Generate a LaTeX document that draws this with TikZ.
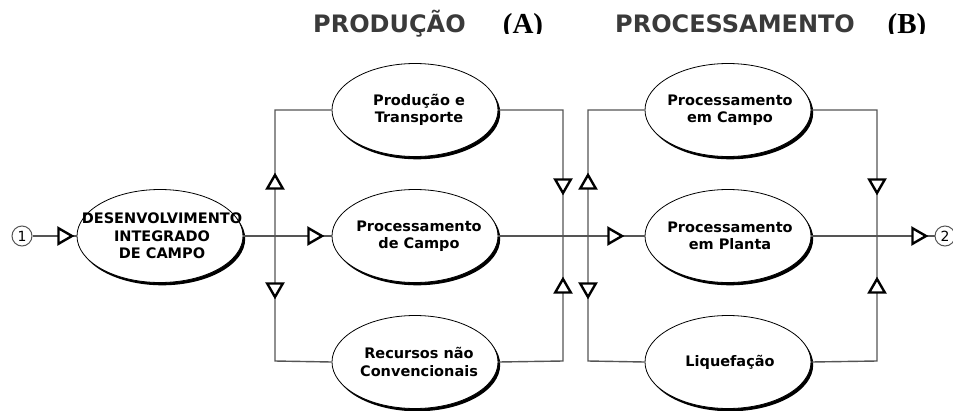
\documentclass[tikz,border=0pt]{standalone}
\usepackage{fontspec}
\setmainfont{DejaVu Sans}
\newfontfamily\headserif{Liberation Serif}
\usetikzlibrary{shapes.geometric,shadows}
\definecolor{headgrey}{HTML}{3A3A3A}
\definecolor{linegrey}{HTML}{555555}
\begin{document}
\begin{tikzpicture}[x=1pt,y=-1pt,
  conn/.style={draw=linegrey, line width=1.4pt},
  proc/.style={ellipse, draw=black, line width=0.8pt, fill=white,
    minimum width=166pt, minimum height=93pt, inner sep=0pt,
    drop shadow={shadow xshift=2.2pt, shadow yshift=-2.8pt, fill=black, opacity=1}},
  ptext/.style={align=center, inner sep=0pt, font=\fontsize{14.5}{17.5}\selectfont\bfseries},
  tri/.style={regular polygon, regular polygon sides=3, draw=black, line width=2.4pt,
    fill=white, minimum size=18pt, inner sep=0pt},
  triup/.style={tri},
  tridown/.style={tri, shape border rotate=180},
  triright/.style={tri, shape border rotate=-90},
  endcirc/.style={circle, draw=linegrey, line width=1pt, fill=white, minimum size=20pt,
    inner sep=0pt, font=\fontsize{14}{14}\selectfont},
  headsans/.style={font=\fontsize{24}{24}\selectfont\bfseries, text=headgrey, inner sep=0pt},
  headlet/.style={font=\headserif\fontsize{29}{29}\selectfont\bfseries, inner sep=0pt}
]
\useasboundingbox (0,0) rectangle (953,410);

% headings
\node[headsans, anchor=west] (hA) at (313,24) {PRODUÇÃO};
\node[headsans, anchor=west] (hB) at (615,24) {PROCESSAMENTO};
\begin{scope}
\clip (0,0) rectangle (953,33.5);
\node[headlet, anchor=base] (lA) at (523,33.5) {(A)};
\node[headlet, anchor=base] (lB) at (907,33.5) {(B)};
\end{scope}

% corner coordinates
\coordinate (aTL) at (275,110);
\coordinate (aBL) at (275,361);
\coordinate (aTR) at (563,110);
\coordinate (aBR) at (563,361);
\coordinate (bTL) at (588,110);
\coordinate (bBL) at (588,361);
\coordinate (bTR) at (877,110);
\coordinate (bBR) at (877,361);

% end circles
\node[endcirc] (c1) at (22,236) {1};
\node[endcirc] (c2) at (945,236) {2};

% ellipses
\node[proc] (D) at (160,236) {};
\node[proc] (PT) at (415,110) {};
\node[proc] (PC) at (415,236) {};
\node[proc] (RC) at (415,362) {};
\node[proc] (PCa) at (728,110) {};
\node[proc] (PP) at (728,236) {};
\node[proc] (LQ) at (728,362) {};

% ellipse texts
\node[ptext] (Dt) at ([xshift=2pt]D) {DESENVOLVIMENTO\\INTEGRADO\\DE CAMPO};
\node[ptext] (PTt) at ([xshift=4pt]PT) {Produção e\\Transporte};
\node[ptext] (PCt) at ([xshift=4pt]PC) {Processamento\\de Campo};
\node[ptext] (RCt) at ([xshift=4pt]RC) {Recursos não\\Convencionais};
\node[ptext] (PCat) at ([xshift=2pt]PCa) {Processamento\\em Campo};
\node[ptext] (PPt) at ([xshift=2pt]PP) {Processamento\\em Planta};
\node[ptext] (LQt) at ([xshift=2pt]LQ) {Liquefação};

% connectors
\draw[conn] (c1) -- (D.west);
\draw[conn] (D.east) -- (PC.west);
\draw[conn] (PC.east) -- (PP.west);
\draw[conn] (PP.east) -- (c2);

\draw[conn] (PT.west) -- (aTL) -- (aBL) -- (RC.west);
\draw[conn] (PT.east) -- (aTR) -- (aBR) -- (RC.east);
\draw[conn] (PCa.west) -- (bTL) -- (bBL) -- (LQ.west);
\draw[conn] (PCa.east) -- (bTR) -- (bBR) -- (LQ.east);

% triangle markers
\node[triright] (t1) at (63,236) {};
\node[triright] (t2) at (313,236) {};
\node[triright] (t3) at (613,236) {};
\node[triright] (t4) at (917,236) {};

\node[triup] (u1) at (275,184) {};
\node[tridown] (u2) at (563,184) {};
\node[triup] (u3) at (588,184) {};
\node[tridown] (u4) at (877,184) {};

\node[tridown] (d1) at (275,288) {};
\node[triup] (d2) at (563,288) {};
\node[tridown] (d3) at (588,288) {};
\node[triup] (d4) at (877,288) {};
\end{tikzpicture}
\end{document}
